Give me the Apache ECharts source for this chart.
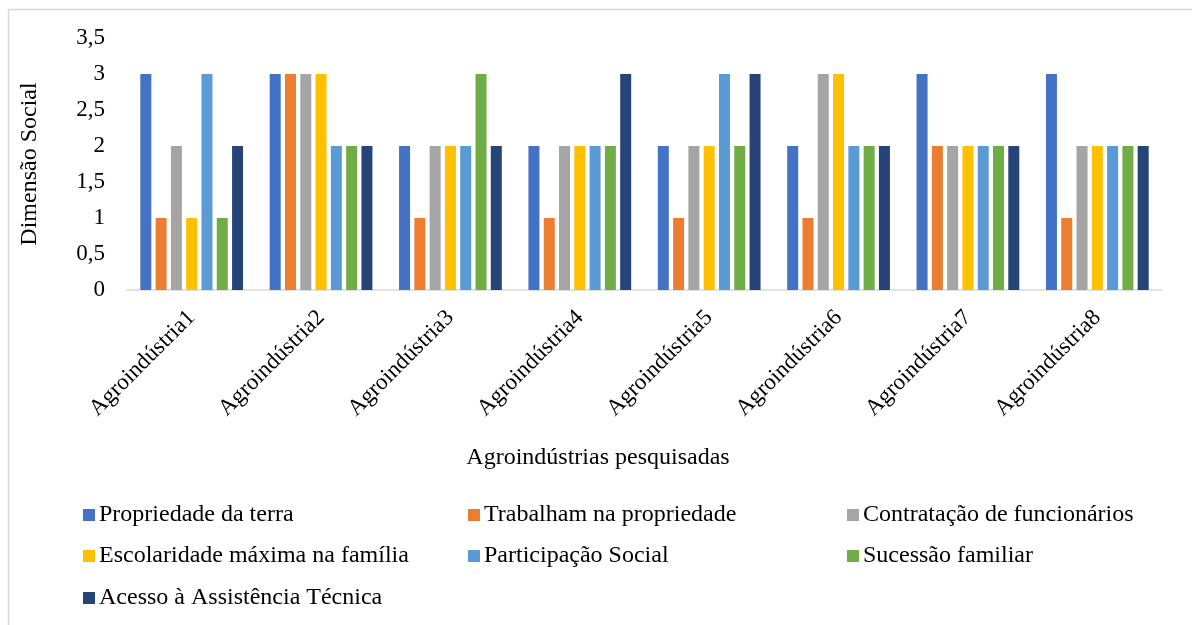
<!DOCTYPE html>
<html>
<head>
<meta charset="utf-8">
<script src="https://cdn.jsdelivr.net/npm/echarts@6/dist/echarts.min.js"></script>
<style>
  html, body { margin: 0; padding: 0; background: #fff; }
  #chart { width: 1192px; height: 625px; }
</style>
</head>
<body>
<div id="chart"></div>
<script>
// Social dimension scores per agro-industry
const categories = ['Agroindústria1', 'Agroindústria2', 'Agroindústria3', 'Agroindústria4',
                    'Agroindústria5', 'Agroindústria6', 'Agroindústria7', 'Agroindústria8'];

const propriedadeTerra   = [3, 3, 2, 2, 2, 2, 3, 3];
const trabalhamPropried  = [1, 3, 1, 1, 1, 1, 2, 1];
const contratacaoFunc    = [2, 3, 2, 2, 2, 3, 2, 2];
const escolaridadeMax    = [1, 3, 2, 2, 2, 3, 2, 2];
const participacaoSocial = [3, 2, 2, 2, 3, 2, 2, 2];
const sucessaoFamiliar   = [1, 2, 3, 2, 2, 2, 2, 2];
const acessoAssistencia  = [2, 2, 2, 3, 3, 2, 2, 2];

const seriesNames = [
  'Propriedade da terra', 'Trabalham na propriedade', 'Contratação de funcionários',
  'Escolaridade máxima na família', 'Participação Social', 'Sucessão familiar',
  'Acesso à Assistência Técnica'
];
const seriesValues = [propriedadeTerra, trabalhamPropried, contratacaoFunc, escolaridadeMax,
                      participacaoSocial, sucessaoFamiliar, acessoAssistencia];
const yTicks = ['0', '0,5', '1', '1,5', '2', '2,5', '3', '3,5'];

const colors = ['#4472C4', '#ED7D31', '#A5A5A5', '#FFC000', '#5B9BD5', '#70AD47', '#264478'];
const FONT = '"Liberation Serif", "Times New Roman", serif';

// legend slots: three columns, three rows
const legendPos = [
  [83, 503], [468, 503], [847, 503],
  [83, 544], [468, 544], [847, 544],
  [83, 586]
];

const chart = echarts.init(document.getElementById('chart'), null, { renderer: 'canvas' });

chart.setOption({
  animation: false,
  color: colors,
  graphic: [{
    type: 'rect',
    shape: { x: 8.5, y: 9.5, width: 1200, height: 700 },
    style: { fill: 'none', stroke: '#d9d9d9', lineWidth: 1.5 },
    silent: true
  }],
  grid: { left: 127, right: 30, top: 38, bottom: 335, containLabel: false },
  legend: seriesNames.map((name, i) => ({
    data: [name],
    left: legendPos[i][0],
    top: legendPos[i][1],
    icon: 'rect',
    itemWidth: 12,
    itemHeight: 12,
    itemGap: 0,
    padding: 0,
    selectedMode: false,
    textStyle: { fontFamily: FONT, fontSize: 24, color: '#000', padding: [0, 0, 0, -1] }
  })),
  xAxis: {
    type: 'category',
    data: categories,
    name: 'Agroindústrias pesquisadas',
    nameLocation: 'middle',
    nameGap: 156,
    // right padding pulls the title toward the page centre
    nameTextStyle: { fontFamily: FONT, fontSize: 24, color: '#000', padding: [0, 93, 0, 0] },
    axisLine: { lineStyle: { color: '#d9d9d9', width: 1.5 } },
    axisTick: { show: false },
    axisLabel: {
      rotate: 45, margin: 24, interval: 0,
      fontFamily: FONT, fontSize: 23, color: '#000'
    }
  },
  yAxis: {
    type: 'value',
    min: 0,
    max: 3.5,
    interval: 0.5,
    name: 'Dimensão Social',
    nameLocation: 'middle',
    nameRotate: 90,
    nameGap: 85,
    nameTextStyle: { fontFamily: FONT, fontSize: 24, color: '#000' },
    axisLine: { show: false },
    axisTick: { show: false },
    splitLine: { show: false },
    axisLabel: {
      margin: 22,
      fontFamily: FONT,
      fontSize: 23,
      color: '#000',
      formatter: v => yTicks[Math.round(v / 0.5)]
    }
  },
  series: seriesNames.map((name, i) => ({
    name: name,
    type: 'bar',
    data: seriesValues[i],
    barWidth: 11,
    barGap: '39%',
    itemStyle: { color: colors[i] }
  }))
});
</script>
</body>
</html>
